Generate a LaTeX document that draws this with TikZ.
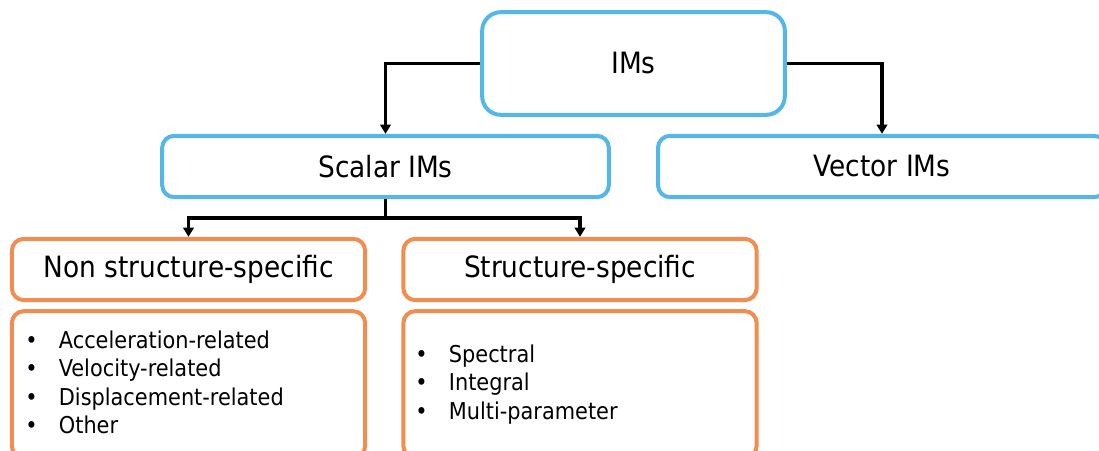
\documentclass[tikz,border=0pt]{standalone}
\usepackage{fontspec}
\setmainfont{DejaVu Sans Condensed}
\usetikzlibrary{arrows.meta}
\definecolor{imblue}{RGB}{84,183,231}
\definecolor{imorange}{RGB}{241,141,80}
\begin{document}
\begin{tikzpicture}[x=0.75pt,y=-0.75pt,
    topbox/.style={draw=imblue,line width=3pt,rounded corners=9pt,minimum height=46pt,font=\fontsize{22}{26}\selectfont},
    subbox/.style={draw=imorange,line width=3pt,rounded corners=9pt,minimum width=265pt,font=\fontsize{22}{26}\selectfont},
    itemlist/.style={anchor=base west,inner sep=0pt,font=\fontsize{17.4}{21.4}\selectfont},
    link/.style={line width=2.6pt,-{Triangle[width=8pt,length=7pt]}}]
  \useasboundingbox (0,0) rectangle (1099,450);
  \clip (0,0) rectangle (1099,450);
  \node[topbox,minimum width=227pt,minimum height=77pt,rounded corners=14pt] (ims) at (633.5,63.5) {IMs};
  \node[topbox,minimum width=335pt] (scalar) at (385.5,166.5) {Scalar IMs};
  \node[topbox,minimum width=336pt] (vector) at (882,166.5) {Vector IMs};
  \node[subbox,minimum height=46pt] (nonspec) at (188.5,269.5) {Non structure-specific};
  \node[subbox,minimum height=46pt] (spec) at (580,269.5) {Structure-specific};
  \node[subbox,minimum height=110pt] (nonlist) at (188.5,384.5) {};
  \node[subbox,minimum height=110pt] (speclist) at (580,384.5) {};
  \node[itemlist] (nonitems) at (25,348) {\begin{tabular}[t]{@{}l@{\hspace{16pt}}l@{}}
      • & Acceleration-related\\
      • & Velocity-related\\
      • & Displacement-related\\
      • & Other
    \end{tabular}};
  \node[itemlist] (specitems) at (415,362) {\begin{tabular}[t]{@{}l@{\hspace{16pt}}l@{}}
      • & Spectral\\
      • & Integral\\
      • & Multi-parameter
    \end{tabular}};
  % tree links
  \coordinate (fork) at (385.5,218);
  \draw[link] (ims.west) -| (scalar.north);
  \draw[link] (ims.east) -| (vector.north);
  \draw[link] (scalar.south) -- (fork) -| (nonspec.north);
  \draw[link] (fork) -| (spec.north);
\end{tikzpicture}
\end{document}
